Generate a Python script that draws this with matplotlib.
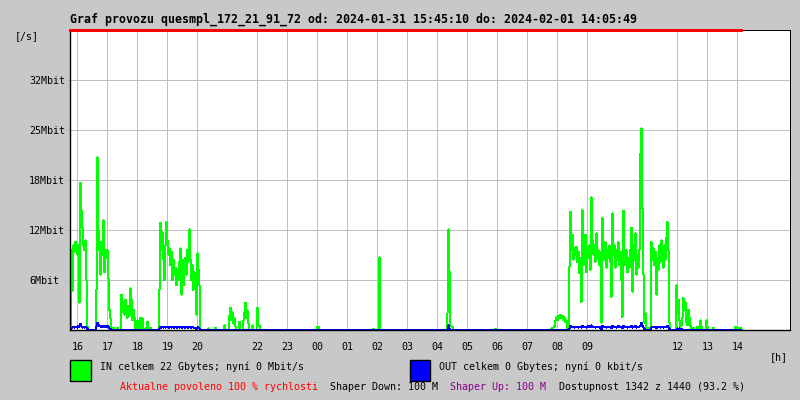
import numpy as np
import matplotlib
matplotlib.use("Agg")
import matplotlib.pyplot as plt
from matplotlib.patches import Rectangle

plt.rcParams['font.family'] = ['DejaVu Sans Mono']

# ---------------- data ----------------
start_clock = "15:45"          # first sample (15:45:10)
start_seconds = 10
sample_minutes = 2
recorded_minutes = 1342        # Dostupnost 1342 z 1440
window_minutes = 1440

hour_labels = ["16", "17", "18", "19", "20", "22", "23", "00", "01", "02", "03",
               "04", "05", "06", "07", "08", "09", "12", "13", "14"]
ytick_values = [6.25, 12.5, 18.75, 25.0, 31.25]
ytick_labels = ["6Mbit", "12Mbit", "18Mbit", "25Mbit", "32Mbit"]
y_max = 37.5

# IN traffic [Mbit/s], 2-minute samples, bursts starting at the given clock time
in_1547 = [10.0, 4.9, 10.6, 9.8, 11.0, 10.2, 9.4, 10.6, 3.4, 18.4, 15.0, 12.9,
           10.6, 10.0, 11.2, 6.2, 0.4, 0.0]
in_1637 = [5.0, 21.6, 12.5, 10.0, 6.9, 11.0, 9.4, 13.7, 7.2, 10.0, 9.0, 10.0,
           6.5, 2.5, 1.5, 0.0]
in_1727 = [4.4, 2.2, 3.5, 1.9, 3.8, 2.8, 1.5, 3.0, 1.8, 5.2, 3.8, 1.2, 2.5, 1.6,
           0.2, 0.0, 1.2, 0.2, 0.0, 1.5, 0.3, 1.5, 0.0, 0.0, 0.2, 0.0, 1.0, 0.0,
           0.0, 0.3]
in_1843 = [5.0, 13.4, 10.0, 12.2, 8.8, 6.2, 10.6, 13.5, 11.2, 9.4, 10.2, 8.1,
           9.8, 6.2, 8.8, 6.9, 7.8, 5.6, 7.5, 6.2, 8.5, 10.2, 4.4, 8.8, 5.6, 7.5,
           9.0, 6.9, 10.0, 8.5, 12.6, 8.8, 6.2, 8.1, 5.0, 7.2, 6.0, 1.9, 9.6,
           7.5, 5.6, 0.0]
in_2103 = [1.8, 2.8, 1.2, 2.2, 0.8, 1.5, 0.4, 0.0, 0.0, 0.0, 1.0, 0.0, 0.0, 0.0,
           1.2, 2.2, 3.4, 1.5, 2.5, 0.8, 0.0, 0.0, 0.0, 0.6, 0.0, 0.0, 0.0, 0.0,
           2.8, 0.5, 0.6]
in_0419 = [2.1, 12.6, 7.4, 0.6, 0.4, 0.4]
in_0751 = [0.3, 0.5, 1.2, 1.6, 1.2, 1.8, 1.5, 1.9, 1.5, 1.8, 1.2, 1.6, 1.0, 1.2,
           0.2, 0.0]
in_0823 = [7.9, 14.8, 10.0, 11.9, 8.8, 10.2, 9.4, 10.4, 8.5, 9.8, 7.1, 9.0, 3.5,
           15.0, 10.6, 8.1, 11.9, 7.2, 10.0, 9.0, 10.6, 7.5, 16.6, 11.2, 9.4,
           10.6, 8.5, 12.1, 9.0, 10.0, 8.1, 9.8, 0.9, 14.0, 10.0, 8.8, 11.0, 7.8,
           10.0, 9.0, 10.6, 8.5, 4.1, 14.6, 9.4, 10.6, 7.8, 10.0, 8.8, 11.0, 8.1,
           9.8, 6.2, 1.6, 14.9, 9.8, 8.1, 10.0, 7.2, 9.0, 7.8, 10.0, 12.8, 4.8,
           10.6, 8.8, 12.1, 6.9, 9.4, 7.8, 10.0, 22.1, 25.2, 15.2, 6.9, 0.9, 2.1,
           0.3, 0.0, 0.2, 0.0, 0.3, 11.0, 8.8, 10.2, 8.1, 9.8, 4.4, 9.0, 7.5,
           10.6, 8.5, 11.2, 9.4, 7.8, 10.6, 8.8, 11.5, 13.5, 10.0, 0.9, 0.0]
in_1157 = [5.6, 2.1, 3.8, 1.2, 0.4, 0.6, 1.5, 4.0, 2.5, 3.5, 1.0, 0.6, 2.5, 1.6,
           0.5]
in_single_times = ["17:11", "17:19", "20:21", "20:35", "20:53", "23:59", "00:01",
                   "01:51", "02:03", "05:55", "07:47", "12:31", "12:39", "12:45",
                   "12:47", "12:57", "12:59", "13:11", "13:55", "13:59", "14:05"]
in_single_values = [0.25, 0.25, 0.2, 0.25, 0.6, 0.4, 0.4, 0.15, 9.1, 0.15, 0.2,
                    0.25, 0.4, 1.2, 0.4, 1.2, 0.4, 0.25, 0.4, 0.25, 0.25]

# OUT traffic [Mbit/s]
out_1547 = [0.3, 0.3, 0.4, 0.3, 0.4, 0.4, 0.3, 0.5, 0.4, 0.75, 0.4, 0.3, 0.4,
            0.3, 0.4, 0.3, 0.1, 0.0]
out_1637 = [0.4, 0.9, 0.6, 0.5, 0.5, 0.4, 0.5, 0.5, 0.4, 0.5, 0.4, 0.5, 0.4, 0.2,
            0.1, 0.0]
out_1843 = [0.2, 0.4, 0.3, 0.35, 0.3, 0.4, 0.3, 0.35, 0.4, 0.3, 0.3, 0.35, 0.3,
            0.4, 0.3, 0.3, 0.35, 0.3, 0.3, 0.4, 0.3, 0.35, 0.3, 0.3, 0.4, 0.3,
            0.3, 0.35, 0.3, 0.3, 0.4, 0.3, 0.3, 0.35, 0.3, 0.3, 0.25, 0.1, 0.35,
            0.3, 0.2, 0.0]
out_0421 = [0.6, 0.2, 0.0]
out_0823 = [0.2, 0.5, 0.4, 0.35, 0.4, 0.3, 0.4, 0.35, 0.4, 0.3, 0.35, 0.4, 0.3,
            0.5, 0.4, 0.35, 0.4, 0.3, 0.4, 0.5, 0.4, 0.35, 0.6, 0.4, 0.35, 0.4,
            0.3, 0.4, 0.35, 0.4, 0.3, 0.35, 0.1, 0.5, 0.4, 0.35, 0.4, 0.3, 0.4,
            0.35, 0.4, 0.3, 0.2, 0.5, 0.4, 0.35, 0.4, 0.3, 0.4, 0.5, 0.35, 0.4,
            0.3, 0.2, 0.5, 0.4, 0.35, 0.4, 0.3, 0.4, 0.35, 0.4, 0.5, 0.3, 0.4,
            0.35, 0.5, 0.3, 0.4, 0.35, 0.4, 0.6, 0.9, 0.5, 0.3, 0.1, 0.0, 0.0,
            0.0, 0.0, 0.0, 0.0, 0.3, 0.4, 0.35, 0.4, 0.3, 0.2, 0.4, 0.35, 0.4,
            0.3, 0.4, 0.35, 0.3, 0.4, 0.35, 0.4, 0.5, 0.3, 0.1, 0.0]
out_1159 = [0.2, 0.1, 0.2, 0.15, 0.1, 0.0]

in_bursts = [("15:47", in_1547), ("16:37", in_1637), ("17:27", in_1727),
             ("18:43", in_1843), ("21:03", in_2103), ("04:19", in_0419),
             ("07:51", in_0751), ("08:23", in_0823), ("11:57", in_1157)]
out_bursts = [("15:47", out_1547), ("16:37", out_1637), ("18:43", out_1843),
              ("04:21", out_0421), ("08:23", out_0823), ("11:59", out_1159)]


def clock_to_minutes(clock):
    h, m = map(int, clock.split(":"))
    h0, m0 = map(int, start_clock.split(":"))
    return ((h * 60 + m) - (h0 * 60 + m0)) % window_minutes


def sample_index(clock):
    return clock_to_minutes(clock) // sample_minutes


n_samples = recorded_minutes // sample_minutes + 1
in_series = np.zeros(n_samples)
out_series = np.zeros(n_samples)
for clock, vals in in_bursts:
    k = sample_index(clock)
    in_series[k:k + len(vals)] = vals[:n_samples - k]
for clock, val in zip(in_single_times, in_single_values):
    in_series[sample_index(clock)] = val
for clock, vals in out_bursts:
    k = sample_index(clock)
    out_series[k:k + len(vals)] = vals[:n_samples - k]

t = np.arange(n_samples) * sample_minutes + sample_minutes / 2

# ---------------- figure ----------------
W, H = 800, 400
bg = '#c8c8c8'
fig = plt.figure(figsize=(W / 100, H / 100), dpi=100, facecolor=bg)
ax = fig.add_axes([70 / W, 70 / H, 720 / W, 300 / H])
ax.set_facecolor('white')

ax.plot(t, in_series, color='#00ff00', lw=0.72, antialiased=False, zorder=2)
ax.plot(t, out_series, color='#0000ff', lw=0.72, antialiased=False, zorder=2.1)

ax.set_xlim(0, window_minutes)
ax.set_ylim(0, y_max)

offset = start_seconds / 60.0
xt = [(clock_to_minutes(h + ":00")) - offset for h in hour_labels]
ax.set_xticks(xt)
ax.set_xticklabels(hour_labels, fontsize=7.2)
ax.tick_params(axis='x', length=0, pad=9)

ax.set_yticks(ytick_values)
ax.set_yticklabels(ytick_labels, fontsize=7.2)
ax.tick_params(axis='y', length=4.3, width=0.72, color='#c0c0c0', pad=25.2)
for lab in ax.get_yticklabels():
    lab.set_horizontalalignment('left')

ax.grid(True, color='#c0c0c0', lw=0.72, zorder=1)
ax.set_axisbelow(True)

for side in ['left', 'bottom']:
    ax.spines[side].set_color('black')
    ax.spines[side].set_linewidth(1.0)
    ax.spines[side].set_zorder(3)
for side in ['top', 'right']:
    ax.spines[side].set_color('black')
    ax.spines[side].set_linewidth(0.72)

# red availability line along the top
ax.plot([0, recorded_minutes], [y_max, y_max], color='#ff0000', lw=0.9,
        clip_on=False, antialiased=False, zorder=5)


def ftext(x, y, s, **kw):
    fig.text(x / W, 1 - y / H, s, va='center', ha='left', **kw)


ftext(70, 19, "Graf provozu quesmpl_172_21_91_72 od: 2024-01-31 15:45:10 do: 2024-02-01 14:05:49",
      fontsize=8.4, fontweight='bold')
ftext(15, 36, "[/s]", fontsize=7.2)
ftext(770, 357, "[h]", fontsize=7.2)

fig.patches.append(Rectangle((70 / W, 1 - 380.5 / H), 20.5 / W, 20.5 / H,
                             transform=fig.transFigure, fc='#00ff00', ec='black', lw=1))
fig.patches.append(Rectangle((410 / W, 1 - 380.5 / H), 20.5 / W, 20.5 / H,
                             transform=fig.transFigure, fc='#0000ff', ec='black', lw=1))
ftext(100, 367, "IN celkem 22 Gbytes; nyní 0 Mbit/s", fontsize=7.2)
ftext(439, 367, "OUT celkem 0 Gbytes; nyní 0 kbit/s", fontsize=7.2)

ftext(120, 387, "Aktualne povoleno 100 % rychlosti", fontsize=7.2, color='#ff0000')
ftext(330, 387, "Shaper Down: 100 M", fontsize=7.2, color='black')
ftext(450, 387, "Shaper Up: 100 M", fontsize=7.2, color='#880088')
ftext(559, 387, "Dostupnost 1342 z 1440 (93.2 %)", fontsize=7.2, color='black')

fig.savefig("out.png", dpi=100, facecolor=bg)
